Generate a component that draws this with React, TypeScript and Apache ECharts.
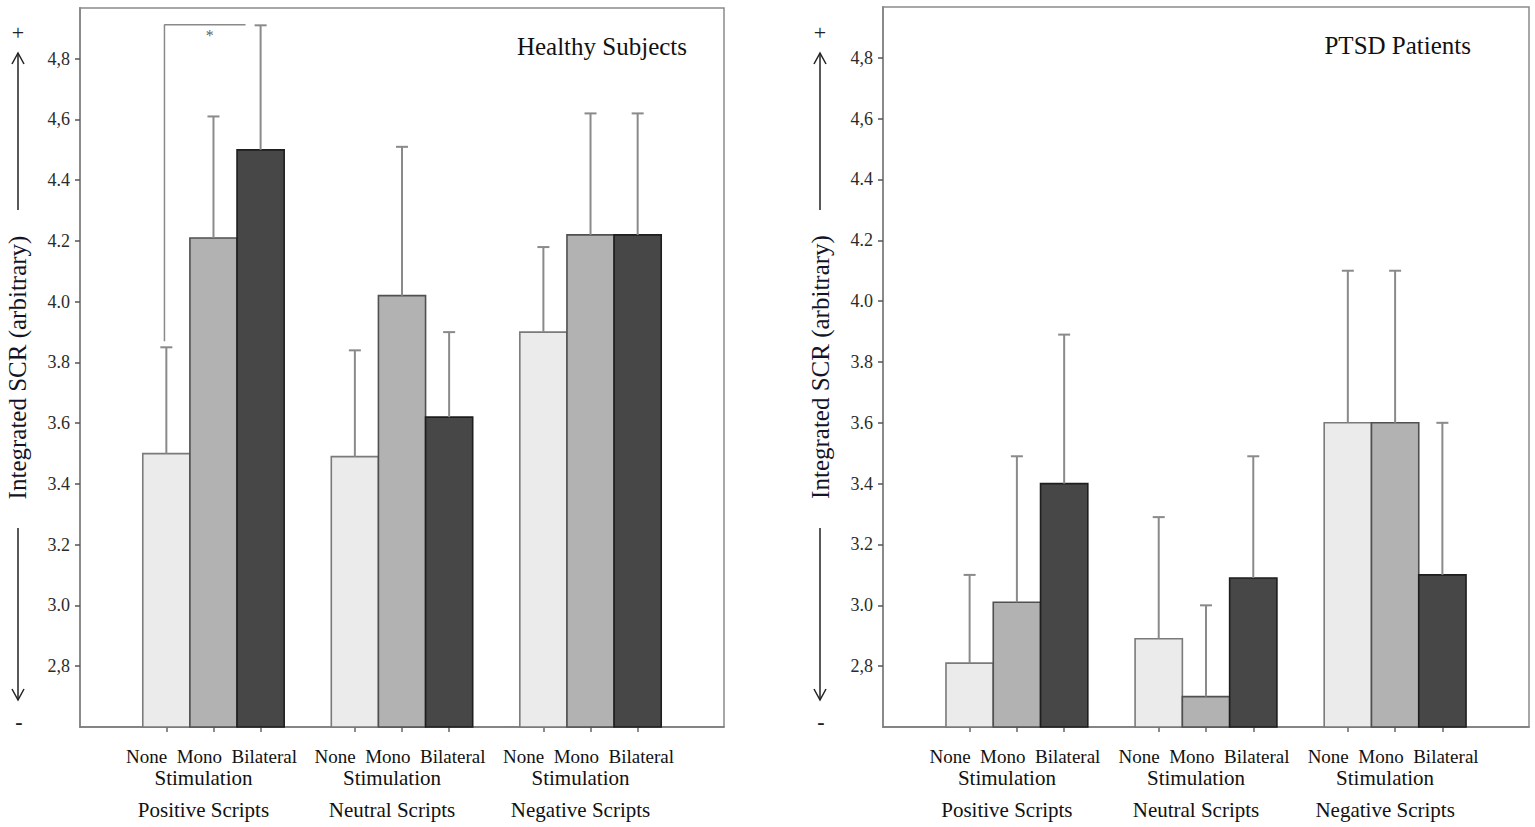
import React, { useEffect, useRef } from "react";
import * as echarts from "echarts";

// ---------- data ----------
const scripts = ["Positive Scripts", "Neutral Scripts", "Negative Scripts"];
const stimulation = ["None", "Mono", "Bilateral"];
const panelTitles = ["Healthy Subjects", "PTSD Patients"];
const yTitle = "Integrated SCR (arbitrary)";

const yTickValues = [2.8, 3.0, 3.2, 3.4, 3.6, 3.8, 4.0, 4.2, 4.4, 4.6, 4.8];
const yTickLabels = ["2,8", "3.0", "3.2", "3.4", "3.6", "3.8", "4.0", "4.2", "4.4", "4,6", "4,8"];

// Healthy subjects: means and upper end of error bars (per script)
const healthyNone = [3.5, 3.49, 3.9];
const healthyMono = [4.21, 4.02, 4.22];
const healthyBilateral = [4.5, 3.62, 4.22];
const healthyNoneErr = [3.85, 3.84, 4.18];
const healthyMonoErr = [4.61, 4.51, 4.62];
const healthyBilateralErr = [4.91, 3.9, 4.62];

// PTSD patients
const ptsdNone = [2.81, 2.89, 3.6];
const ptsdMono = [3.01, 2.7, 3.6];
const ptsdBilateral = [3.4, 3.09, 3.1];
const ptsdNoneErr = [3.1, 3.29, 4.1];
const ptsdMonoErr = [3.49, 3.0, 4.1];
const ptsdBilateralErr = [3.89, 3.49, 3.6];

// significance bracket (healthy, positive scripts: None vs Bilateral)
const bracketLow = 3.87;
const bracketHigh = 4.912;

// ---------- layout constants ----------
const Y_MIN = 2.6;
const Y_MAX = 4.967;
const X_MIN = -0.708;
const X_MAX = 2.708;
const BAR_UNIT = 0.25;
const offsets = [-0.25, 0, 0.25];
const fills = ["#ebebeb", "#b2b2b2", "#474747"];
const strokes = ["#7a7a7a", "#505050", "#1e1e1e"];
const ERR_COLOR = "#8a8a8a";
const FONT = "'Liberation Serif', 'Times New Roman', serif";

const panels = [
  {
    means: [healthyNone, healthyMono, healthyBilateral],
    errs: [healthyNoneErr, healthyMonoErr, healthyBilateralErr],
  },
  {
    means: [ptsdNone, ptsdMono, ptsdBilateral],
    errs: [ptsdNoneErr, ptsdMonoErr, ptsdBilateralErr],
  },
];

const barCenters: number[] = [];
scripts.forEach((_, g) => offsets.forEach((o) => barCenters.push(g + o)));

function yLabel(v: number): string {
  for (let i = 0; i < yTickValues.length; i++) {
    if (Math.abs(v - yTickValues[i]) < 1e-6) return yTickLabels[i];
  }
  return "";
}

function buildOption(): any {
  const grids = [
    { left: 80, top: 8, width: 644, height: 719 },
    { left: 883, top: 7, width: 646, height: 720 },
  ].map((g) => ({
    ...g,
    show: true,
    borderColor: "#8a8a8a",
    borderWidth: 1.5,
    backgroundColor: "#fff",
  }));

  const xAxes = [0, 1].map((i) => ({
    type: "value",
    gridIndex: i,
    min: X_MIN,
    max: X_MAX,
    splitLine: { show: false },
    axisLine: { show: true, onZero: false, lineStyle: { color: "#7a7a7a", width: 1.5 } },
    axisTick: {
      show: true,
      customValues: barCenters,
      length: 5,
      lineStyle: { color: "#666", width: 1.5 },
    },
    axisLabel: {
      show: true,
      customValues: [0, 1, 2],
      margin: 18,
      color: "#111",
      fontFamily: FONT,
      formatter: (v: number) => {
        const g = Math.round(v);
        return `{a|${stimulation.join("  ")}}\n{b|Stimulation}\n{c|${scripts[g]}}`;
      },
      rich: {
        a: { fontFamily: FONT, fontSize: 19, lineHeight: 22, color: "#111", padding: [0, 4, 0, 0] },
        b: { fontFamily: FONT, fontSize: 21, lineHeight: 22, color: "#111", padding: [0, 20, 0, 0] },
        c: { fontFamily: FONT, fontSize: 21, lineHeight: 42, color: "#111", padding: [0, 20, 0, 0] },
      },
    },
  }));

  const yAxes = [0, 1].map((i) => ({
    type: "value",
    gridIndex: i,
    min: Y_MIN,
    max: Y_MAX,
    interval: 0.2,
    name: yTitle,
    nameLocation: "middle",
    nameGap: 50,
    nameTextStyle: { fontFamily: FONT, fontSize: 25, color: "#141428" },
    splitLine: { show: false },
    axisLine: { show: true, onZero: false, lineStyle: { color: "#8a8a8a", width: 2 } },
    axisTick: {
      show: true,
      customValues: yTickValues,
      length: 5,
      lineStyle: { color: "#555", width: 1.5 },
    },
    axisLabel: {
      show: true,
      customValues: yTickValues,
      margin: 10,
      fontFamily: FONT,
      fontSize: 18,
      color: "#2b2b2b",
      formatter: (v: number) => yLabel(v),
    },
  }));

  const series: any[] = [];
  panels.forEach((p, pi) => {
    stimulation.forEach((stim, si) => {
      const data = scripts.map((_, g) => [g + offsets[si], p.means[si][g], p.errs[si][g]]);
      series.push({
        type: "custom",
        name: stim,
        xAxisIndex: pi,
        yAxisIndex: pi,
        encode: { x: 0, y: 1 },
        data,
        renderItem: (params: any, api: any) => {
          const x = api.value(0);
          const v = api.value(1);
          const e = api.value(2);
          const top = api.coord([x, v]);
          const base = api.coord([x, Y_MIN]);
          const errTop = api.coord([x, e]);
          const w = api.size([BAR_UNIT, 0])[0];
          const cap = 12;
          return {
            type: "group",
            children: [
              {
                type: "rect",
                shape: { x: top[0] - w / 2, y: top[1], width: w, height: base[1] - top[1] },
                style: { fill: fills[si], stroke: strokes[si], lineWidth: 1.6 },
              },
              {
                type: "line",
                shape: { x1: top[0], y1: top[1], x2: top[0], y2: errTop[1] },
                style: { stroke: ERR_COLOR, lineWidth: 2 },
              },
              {
                type: "line",
                shape: { x1: top[0] - cap / 2, y1: errTop[1], x2: top[0] + cap / 2, y2: errTop[1] },
                style: { stroke: ERR_COLOR, lineWidth: 2 },
              },
            ],
          };
        },
      });
    });
  });

  // significance bracket
  series.push({
    type: "line",
    xAxisIndex: 0,
    yAxisIndex: 0,
    symbol: "none",
    lineStyle: { color: "#8a8a8a", width: 1.5 },
    data: [
      [-0.26, bracketLow],
      [-0.26, bracketHigh],
      [0.17, bracketHigh],
    ],
    z: 5,
  });
  series.push({
    type: "scatter",
    xAxisIndex: 0,
    yAxisIndex: 0,
    symbolSize: 1,
    itemStyle: { color: "transparent" },
    label: {
      show: true,
      position: "inside",
      formatter: "*",
      fontFamily: FONT,
      fontSize: 16,
      color: "#333",
    },
    data: [[-0.02, 4.875]],
  });

  const arrowStyle = { stroke: "#222", lineWidth: 1.5, fill: "none" };
  const arrows = (cx: number) => [
    { type: "line", shape: { x1: cx, y1: 210, x2: cx, y2: 53 }, style: arrowStyle },
    { type: "polyline", shape: { points: [[cx - 6, 64], [cx, 53], [cx + 6, 64]] }, style: arrowStyle },
    { type: "line", shape: { x1: cx, y1: 528, x2: cx, y2: 700 }, style: arrowStyle },
    { type: "polyline", shape: { points: [[cx - 6, 689], [cx, 700], [cx + 6, 689]] }, style: arrowStyle },
    {
      type: "text",
      x: cx,
      y: 32,
      style: { text: "+", fontFamily: FONT, fontSize: 22, fill: "#222", align: "center", verticalAlign: "middle" },
    },
    {
      type: "text",
      x: cx + 1,
      y: 721,
      style: { text: "-", fontFamily: FONT, fontSize: 22, fontWeight: "bold", fill: "#222", align: "center", verticalAlign: "middle" },
    },
  ];

  return {
    animation: false,
    backgroundColor: "#fff",
    title: [
      {
        text: panelTitles[0],
        right: 848,
        top: 34,
        padding: 0,
        textStyle: { fontFamily: FONT, fontSize: 25, fontWeight: "normal", color: "#111" },
      },
      {
        text: panelTitles[1],
        right: 64,
        top: 33,
        padding: 0,
        textStyle: { fontFamily: FONT, fontSize: 25, fontWeight: "normal", color: "#111" },
      },
    ],
    grid: grids,
    xAxis: xAxes,
    yAxis: yAxes,
    series,
    graphic: [...arrows(18), ...arrows(820)],
  };
}

export default function App() {
  const ref = useRef<HTMLDivElement>(null);
  useEffect(() => {
    document.body.style.margin = "0";
    const chart = echarts.init(ref.current!, null, { renderer: "svg" });
    chart.setOption(buildOption());
    return () => chart.dispose();
  }, []);
  return <div ref={ref} style={{ width: 1535, height: 827 }} />;
}
